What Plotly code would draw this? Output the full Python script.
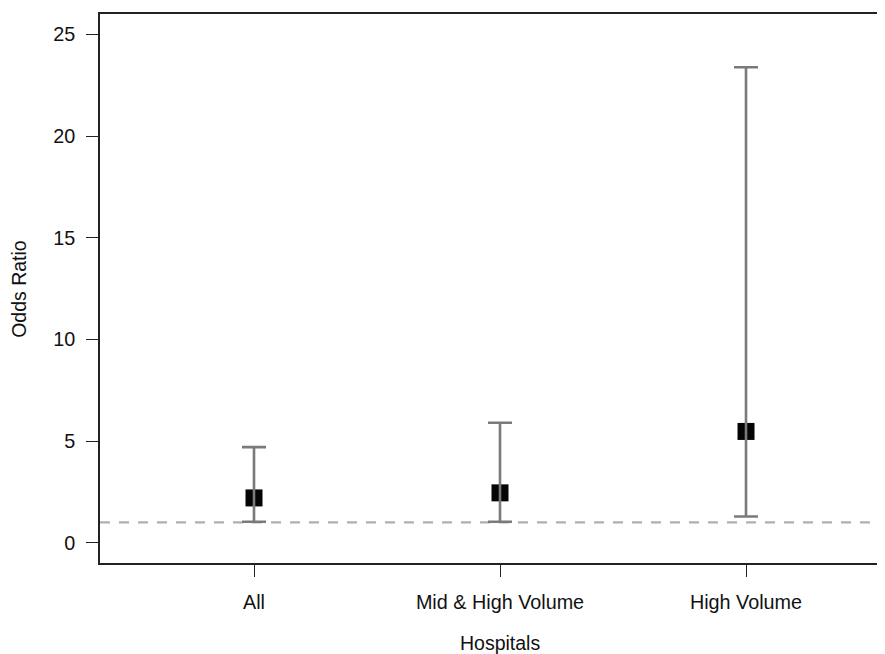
import plotly.graph_objects as go

categories = ["All", "Mid & High Volume", "High Volume"]
odds_ratio = [2.2, 2.45, 5.47]
ci_lower = [1.03, 1.03, 1.29]
ci_upper = [4.70, 5.90, 23.38]
reference_or = 1
y_ticks = [0, 5, 10, 15, 20, 25]

err_plus = [u - m for u, m in zip(ci_upper, odds_ratio)]
err_minus = [m - l for m, l in zip(odds_ratio, ci_lower)]

FONT = "Liberation Sans, Arial, Helvetica, sans-serif"

fig = go.Figure()
fig.add_trace(go.Scatter(
    x=categories, y=odds_ratio, mode="markers",
    marker=dict(symbol="square", size=17, color="#050505", line=dict(width=0)),
    showlegend=False, hoverinfo="skip",
))
fig.add_trace(go.Scatter(
    x=categories, y=odds_ratio, mode="markers",
    marker=dict(size=1, color="rgba(0,0,0,0)"),
    error_y=dict(type="data", symmetric=False, array=err_plus, arrayminus=err_minus,
                 color="#7a7a7a", thickness=2.6, width=12),
    showlegend=False,
))

fig.add_shape(type="line", xref="paper", x0=0, x1=1, yref="y", y0=reference_or, y1=reference_or,
              line=dict(color="#b0b0b0", width=2.2, dash="10px,9px"), layer="below")

fig.add_annotation(text="Hospitals", xref="x", x=categories[1], yref="paper", y=-0.146,
                   yanchor="middle", showarrow=False, font=dict(size=19.5, color="#111", family=FONT))
fig.add_annotation(text="Odds Ratio", xref="paper", x=-0.104, xanchor="center", yref="paper", y=0.5,
                   textangle=-90, showarrow=False, font=dict(size=19.5, color="#111", family=FONT))

fig.update_layout(
    width=877, height=646,
    margin=dict(l=92, r=0, t=6, b=91),
    paper_bgcolor="white", plot_bgcolor="white",
    font=dict(family=FONT, size=19.8, color="#111"),
)
fig.update_xaxes(
    type="category", range=[-0.626, 2.565],
    showgrid=False, zeroline=False,
    showline=True, linecolor="#222", linewidth=1.6, mirror=True,
    ticks="outside", ticklen=12, tickwidth=1.3, tickcolor="#222",
    ticklabelstandoff=8,
)
fig.update_yaxes(
    range=[-1, 26], tickvals=y_ticks,
    showgrid=False, zeroline=False,
    showline=True, linecolor="#222", linewidth=1.6, mirror=False,
    ticks="outside", ticklen=12, tickwidth=1.3, tickcolor="#222",
    ticklabelstandoff=7,
)

fig.write_html("out.html")
